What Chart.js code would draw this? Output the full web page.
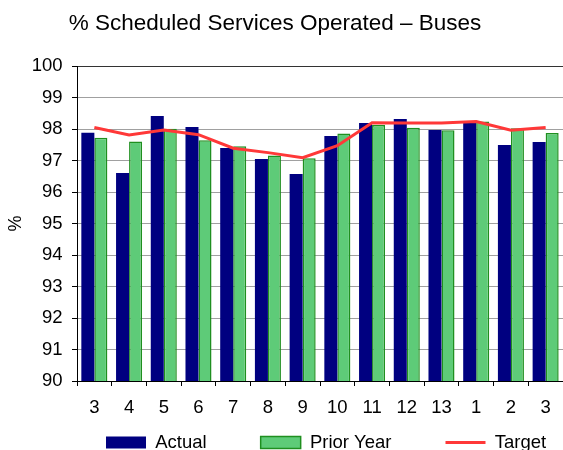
<!DOCTYPE html>
<html>
<head>
<meta charset="utf-8">
<script src="https://cdn.jsdelivr.net/npm/chart.js@4/dist/chart.umd.min.js"></script>
<style>
  html, body { margin: 0; padding: 0; background: #ffffff; }
  #wrap { width: 563px; height: 450px; position: relative; }
</style>
</head>
<body>
<div id="wrap"><canvas id="c" width="563" height="450"></canvas></div>
<script>
const categories = ['3', '4', '5', '6', '7', '8', '9', '10', '11', '12', '13', '1', '2', '3'];
const actualValues = [97.88, 96.60, 98.41, 98.06, 97.40, 97.05, 96.57, 97.78, 98.19, 98.32, 97.97, 98.20, 97.49, 97.59];
const priorYearValues = [97.72, 97.60, 98.01, 97.64, 97.45, 97.16, 97.07, 97.86, 98.13, 98.04, 97.96, 98.24, 98.02, 97.87];
const targetValues = [98.05, 97.81, 97.97, 97.82, 97.39, 97.25, 97.09, 97.47, 98.20, 98.19, 98.19, 98.24, 97.96, 98.05];
const yTickValues = [90, 91, 92, 93, 94, 95, 96, 97, 98, 99, 100];

const FONT = '"Liberation Sans", Arial, sans-serif';
const NAVY = '#000080';
const GREEN = '#5ecb78';
const DKGREEN = '#1f8f1f';
const RED = '#ff3838';

const layoutFix = {
  id: 'layoutFix',
  afterLayout(chart) {
    const lg = chart.legend;
    if (lg) {
      const pad = lg.options.labels.padding;
      lg.left = 106 - pad;
      lg.right = 2000;
      lg.top = 433.25 - pad;
      lg.bottom = 460;
      lg.width = lg.right - lg.left;
      lg.height = lg.bottom - lg.top;
    }
    const tb = chart.titleBlock;
    if (tb) {
      tb.right = tb.right - 13;
      tb.width = tb.right - tb.left;
    }
  }
};

new Chart(document.getElementById('c'), {
  type: 'bar',
  data: {
    labels: categories,
    datasets: [
      {
        type: 'line',
        label: 'Target',
        data: targetValues,
        borderColor: RED,
        backgroundColor: RED,
        borderWidth: 3,
        pointRadius: 0,
        tension: 0,
        fill: false,
        order: 0
      },
      {
        label: 'Actual',
        data: actualValues,
        backgroundColor: NAVY,
        borderColor: NAVY,
        borderWidth: 0,
        categoryPercentage: 0.75,
        barPercentage: 1.0,
        order: 1
      },
      {
        label: 'Prior Year',
        data: priorYearValues,
        backgroundColor: GREEN,
        borderColor: DKGREEN,
        borderWidth: 1.5,
        categoryPercentage: 0.75,
        barPercentage: 1.0,
        order: 2
      }
    ]
  },
  options: {
    responsive: false,
    animation: false,
    devicePixelRatio: 1,
    layout: { padding: 0 },
    plugins: {
      title: {
        display: true,
        text: '% Scheduled Services Operated \u2013 Buses',
        color: '#000',
        font: { family: FONT, size: 22.5, weight: 'normal' },
        padding: { top: 9.8, bottom: 29.2 }
      },
      legend: {
        display: true,
        position: 'bottom',
        align: 'start',
        maxHeight: 30,
        labels: {
          color: '#000',
          font: { family: FONT, size: 18.5 },
          padding: 54,
          boxWidth: 40,
          boxHeight: 12,
          usePointStyle: true,
          pointStyleWidth: 40,
          generateLabels(chart) {
            const ds = chart.data.datasets;
            const orderIdx = [1, 2, 0];
            return orderIdx.map(i => ({
              text: ds[i].label,
              fillStyle: ds[i].backgroundColor,
              strokeStyle: ds[i].borderColor,
              lineWidth: ds[i].borderWidth,
              pointStyle: ds[i].type === 'line' ? 'line' : 'rect',
              hidden: false,
              datasetIndex: i,
              fontColor: '#000'
            }));
          }
        }
      },
      tooltip: { enabled: false }
    },
    scales: {
      x: {
        offset: true,
        grid: {
          display: true,
          offset: true,
          drawOnChartArea: false,
          drawTicks: true,
          tickLength: 5,
          tickColor: '#000'
        },
        border: { display: true, color: '#000', width: 1 },
        ticks: {
          color: '#000',
          font: { family: FONT, size: 18.5 },
          padding: 11.2,
          maxRotation: 0,
          autoSkip: false
        },
        afterFit(scale) { scale.height = 39; }
      },
      y: {
        min: 90,
        max: 100,
        afterBuildTicks(scale) { scale.ticks = yTickValues.map(v => ({ value: v })); },
        grid: {
          color: (ctx) => (ctx.tick && ctx.tick.value === 100 ? '#333333' : '#a0a0a0'),
          lineWidth: 1,
          drawTicks: true,
          tickLength: 5,
          tickColor: '#000'
        },
        border: { display: true, color: '#000', width: 1 },
        ticks: {
          color: '#000',
          font: { family: FONT, size: 18.5 },
          padding: 9.5
        },
        title: {
          display: true,
          text: '%',
          color: '#000',
          font: { family: FONT, size: 18 },
          padding: { top: 5.7, bottom: 0 }
        },
        afterFit(scale) { scale.width = 77; }
      }
    }
  },
  plugins: [layoutFix]
});
</script>
</body>
</html>
